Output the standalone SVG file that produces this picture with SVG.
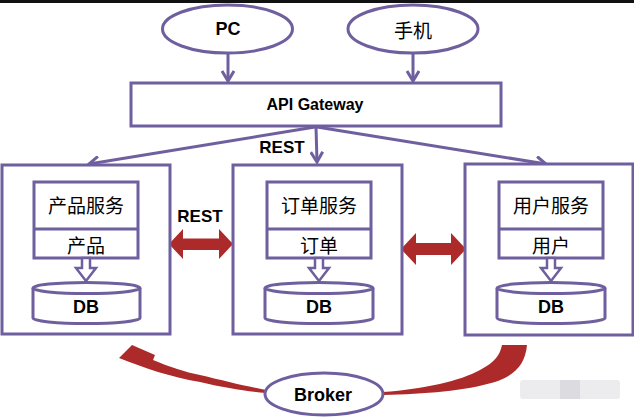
<svg xmlns="http://www.w3.org/2000/svg" width="634" height="419" viewBox="0 0 634 419">
<style>
.ln{fill:none;stroke:#6f5f9e;stroke-width:3}
.box{fill:#fff;stroke:#6f5f9e;stroke-width:3}
.en{font-family:"Liberation Sans",Arial,sans-serif;font-weight:bold;fill:#000;text-anchor:middle;dominant-baseline:central}
.zh{font-family:"Noto Sans CJK SC","Noto Sans",sans-serif;fill:#000;text-anchor:middle;dominant-baseline:central;font-size:19px}
.red{fill:#ad2a2b}
.hol{fill:#fff;stroke:#6f5f9e;stroke-width:2.5;stroke-linejoin:miter}
</style>
<defs>
<marker id="v" markerWidth="14" markerHeight="14" refX="11" refY="7" orient="auto" markerUnits="userSpaceOnUse">
<path d="M1,1 L11,7 L1,13" fill="none" stroke="#6f5f9e" stroke-width="3"/>
</marker>
</defs>
<rect x="0" y="0" width="634" height="419" fill="#fff"/>
<rect x="0" y="0" width="634" height="3" fill="#111"/>
<rect x="520" y="380" width="100" height="19" rx="3" fill="#ececef"/>
<rect x="560" y="380" width="20" height="19" fill="#dcdce0"/>

<g id="connectors">
<line class="ln" x1="228" y1="53" x2="228" y2="81" marker-end="url(#v)"/>
<line class="ln" x1="413" y1="53" x2="413" y2="81" marker-end="url(#v)"/>
<line class="ln" x1="315" y1="127" x2="89" y2="164" marker-end="url(#v)"/>
<line class="ln" x1="316" y1="127" x2="317" y2="162" marker-end="url(#v)"/>
<line class="ln" x1="317" y1="127" x2="546" y2="164" marker-end="url(#v)"/>
<text class="en" x="282" y="147" font-size="17">REST</text>
<text class="en" x="200" y="216" font-size="17">REST</text>
<path class="red" d="M169,244 L183,229 L183,238.5 L219,238.5 L219,229 L233,244 L219,259 L219,250 L183,250 L183,259 Z"/>
<path class="red" d="M401,249 L416,233 L416,243 L451,243 L451,233 L466,249 L451,265 L451,255 L416,255 L416,265 Z"/>
<path class="red" d="M119,358 L132,345 L155,355 L153,360 C170,367 185,372 200,375 C225,381 245,386 266,390 L266,393 C245,391 225,388 200,382 C170,377 145,368 119,358 Z"/>
<path class="red" d="M502,345 L527,345 C525,365 515,375 495,382 C465,391 425,394 383,395 L383,392 C425,389 460,381 480,370 C495,362 500,355 502,345 Z"/>
</g>

<g id="pc">
<ellipse class="box" cx="227.5" cy="29" rx="65" ry="24"/>
<text class="en" x="228" y="29" font-size="18">PC</text>
</g>
<g id="mobile">
<ellipse class="box" cx="413" cy="29" rx="65" ry="24"/>
<text class="zh" x="413" y="29" font-size="20">手机</text>
</g>
<g id="gateway">
<rect class="box" x="131" y="83" width="370" height="43"/>
<text class="en" x="315" y="104" font-size="16">API Gateway</text>
</g>

<g id="product">
<rect class="box" x="2" y="165" width="168" height="169"/>
<rect class="box" x="34" y="182" width="104" height="76"/>
<line class="ln" x1="34" y1="229" x2="138" y2="229"/>
<text class="zh" x="86" y="204">产品服务</text>
<text class="zh" x="86" y="244">产品</text>
<path class="box" d="M33,288 V318 A53.5,5.5 0 0 0 140,318 V288"/>
<ellipse class="box" cx="86.5" cy="288" rx="53.5" ry="5.5"/>
<path class="hol" d="M82,258 L90,258 L90,268 L96,268 L86,281 L76,268 L82,268 Z"/>
<text class="en" x="86" y="307" font-size="18">DB</text>
</g>

<g id="order">
<rect class="box" x="233" y="165" width="169" height="169"/>
<rect class="box" x="267" y="182" width="104" height="76"/>
<line class="ln" x1="267" y1="229" x2="371" y2="229"/>
<text class="zh" x="319" y="204">订单服务</text>
<text class="zh" x="319" y="244">订单</text>
<path class="box" d="M265,288 V318 A54,5.5 0 0 0 373,318 V288"/>
<ellipse class="box" cx="319" cy="288" rx="54" ry="5.5"/>
<path class="hol" d="M315,258 L323,258 L323,268 L329,268 L319,281 L309,268 L315,268 Z"/>
<text class="en" x="319" y="307" font-size="18">DB</text>
</g>

<g id="user">
<rect class="box" x="465" y="164" width="168" height="171"/>
<rect class="box" x="499" y="182" width="104" height="76"/>
<line class="ln" x1="499" y1="229" x2="603" y2="229"/>
<text class="zh" x="551" y="204">用户服务</text>
<text class="zh" x="551" y="244">用户</text>
<path class="box" d="M497,288 V318 A54,5.5 0 0 0 605,318 V288"/>
<ellipse class="box" cx="551" cy="288" rx="54" ry="5.5"/>
<path class="hol" d="M547,258 L555,258 L555,268 L561,268 L551,281 L541,268 L547,268 Z"/>
<text class="en" x="551" y="307" font-size="18">DB</text>
</g>

<g id="broker">
<ellipse class="box" cx="324" cy="394" rx="59" ry="21"/>
<text class="en" x="323" y="395" font-size="18">Broker</text>
</g>
</svg>
